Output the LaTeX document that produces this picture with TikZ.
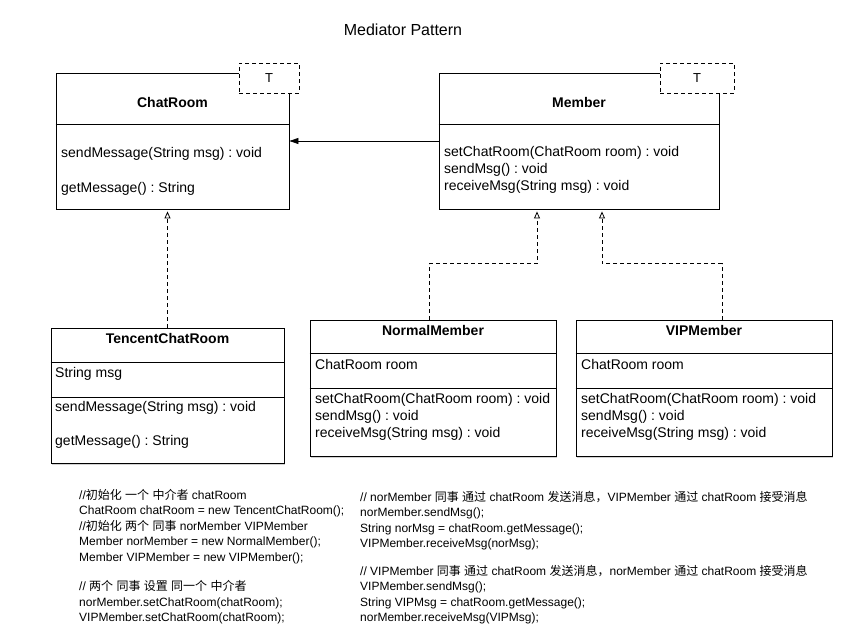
\documentclass[tikz,border=0pt]{standalone}
\usepackage{fontspec}
\setmainfont{Liberation Sans}
\newfontfamily\cjk{Noto Sans CJK SC}
\usetikzlibrary{arrows.meta,calc,shadows}
\frenchspacing

\tikzset{
  classbox/.style = {draw, fill=white, line width=0.9pt, inner sep=0pt,
    drop shadow={shadow xshift=1pt, shadow yshift=-1.5pt, opacity=0.35}},
  tparam/.style = {draw, fill=white, line width=0.8pt, dash pattern=on 4pt off 3pt,
    minimum width=60pt, minimum height=30pt, font=\fontsize{13}{15}\selectfont},
  cname/.style = {font=\fontsize{14}{17}\bfseries},
  members/.style = {anchor=west, align=left, inner sep=0pt, font=\fontsize{14}{17}\selectfont},
  code/.style = {anchor=north west, align=left, inner sep=0pt, font=\fontsize{12}{15.5}\selectfont},
  realize/.style = {line width=0.8pt, dash pattern=on 4pt off 3pt, -{Triangle[open, length=7pt, width=6pt]}},
  assoc/.style = {line width=0.8pt, -{Triangle[length=9pt, width=6pt]}}
}

\begin{document}
\begin{tikzpicture}[x=1pt, y=-1pt]
\path[use as bounding box, fill=white] (0,0) rectangle (849,644);

\node (title) at (403,30) {\fontsize{16}{19}\selectfont Mediator Pattern};

% ChatRoom
\node[classbox, minimum width=233pt, minimum height=136pt] (chatroom) at (172.5,141) {};
\draw[line width=0.9pt] (chatroom.west |- 0,124) -- (chatroom.east |- 0,124);
\node[tparam] (chatroom-t) at (269,78) {T};
\node[cname] (chatroom-name) at (172.5,102) {ChatRoom};
\node[members] (chatroom-ops) at (61,171.5) {sendMessage(String msg) : void\\[18pt]getMessage() : String};

% Member
\node[classbox, minimum width=280pt, minimum height=136pt] (member) at (579,141) {};
\draw[line width=0.9pt] (member.west |- 0,124) -- (member.east |- 0,124);
\node[tparam, minimum width=74pt] (member-t) at (697,78) {T};
\node[cname] (member-name) at (579,102) {Member};
\node[members] (member-ops) at (444,170) {setChatRoom(ChatRoom room) : void\\sendMsg() : void\\receiveMsg(String msg) : void};

% TencentChatRoom
\node[classbox, minimum width=233pt, minimum height=135pt] (tencent) at (167.5,395.5) {};
\draw[line width=0.9pt] (tencent.west |- 0,362) -- (tencent.east |- 0,362);
\draw[line width=0.9pt] (tencent.west |- 0,397) -- (tencent.east |- 0,397);
\node[cname] (tencent-name) at (167.5,338) {TencentChatRoom};
\node[members] (tencent-attr) at (55,374) {String msg};
\node[members] (tencent-ops) at (55,425) {sendMessage(String msg) : void\\[17pt]getMessage() : String};

% NormalMember
\node[classbox, minimum width=246pt, minimum height=136pt] (normal) at (433,388) {};
\draw[line width=0.9pt] (normal.west |- 0,353) -- (normal.east |- 0,353);
\draw[line width=0.9pt] (normal.west |- 0,388) -- (normal.east |- 0,388);
\node[cname] (normal-name) at (433,330) {NormalMember};
\node[members] (normal-attr) at (315,364) {ChatRoom room};
\node[members] (normal-ops) at (315,417) {setChatRoom(ChatRoom room) : void\\sendMsg() : void\\receiveMsg(String msg) : void};

% VIPMember
\node[classbox, minimum width=256pt, minimum height=136pt] (vip) at (704,388) {};
\draw[line width=0.9pt] (vip.west |- 0,353) -- (vip.east |- 0,353);
\draw[line width=0.9pt] (vip.west |- 0,388) -- (vip.east |- 0,388);
\node[cname] (vip-name) at (704,330) {VIPMember};
\node[members] (vip-attr) at (581,364) {ChatRoom room};
\node[members] (vip-ops) at (581,417) {setChatRoom(ChatRoom room) : void\\sendMsg() : void\\receiveMsg(String msg) : void};

% connectors
\draw[assoc] (member.west |- 0,141) -- (chatroom.east |- 0,141);
\draw[realize] (tencent.north) -- ($(tencent.north |- chatroom.south)+(0,2)$);
\draw[realize] ([xshift=-4pt]normal.north) -- ++(0,-56) -| ([xshift=-42pt, yshift=-2pt]member.south);
\draw[realize] ([xshift=18pt]vip.north) -- ++(0,-56) -| ([xshift=23pt, yshift=-2pt]member.south);

% client code
\node[code] (code-left) at (79,489) {//{\cjk 初始化} {\cjk 一个} {\cjk 中介者} chatRoom\\
ChatRoom chatRoom = new TencentChatRoom();\\
//{\cjk 初始化} {\cjk 两个} {\cjk 同事} norMember VIPMember\\
Member norMember = new NormalMember();\\
Member VIPMember = new VIPMember();\\[14pt]
// {\cjk 两个} {\cjk 同事} {\cjk 设置} {\cjk 同一个} {\cjk 中介者}\\
norMember.setChatRoom(chatRoom);\\
VIPMember.setChatRoom(chatRoom);};
\node[code] (code-right) at (360,491) {// norMember {\cjk 同事} {\cjk 通过} chatRoom {\cjk 发送消息，}VIPMember {\cjk 通过} chatRoom {\cjk 接受消息}\\
norMember.sendMsg();\\
String norMsg = chatRoom.getMessage();\\
VIPMember.receiveMsg(norMsg);\\[12pt]
// VIPMember {\cjk 同事} {\cjk 通过} chatRoom {\cjk 发送消息，}norMember {\cjk 通过} chatRoom {\cjk 接受消息}\\
VIPMember.sendMsg();\\
String VIPMsg = chatRoom.getMessage();\\
norMember.receiveMsg(VIPMsg);};
\end{tikzpicture}
\end{document}
